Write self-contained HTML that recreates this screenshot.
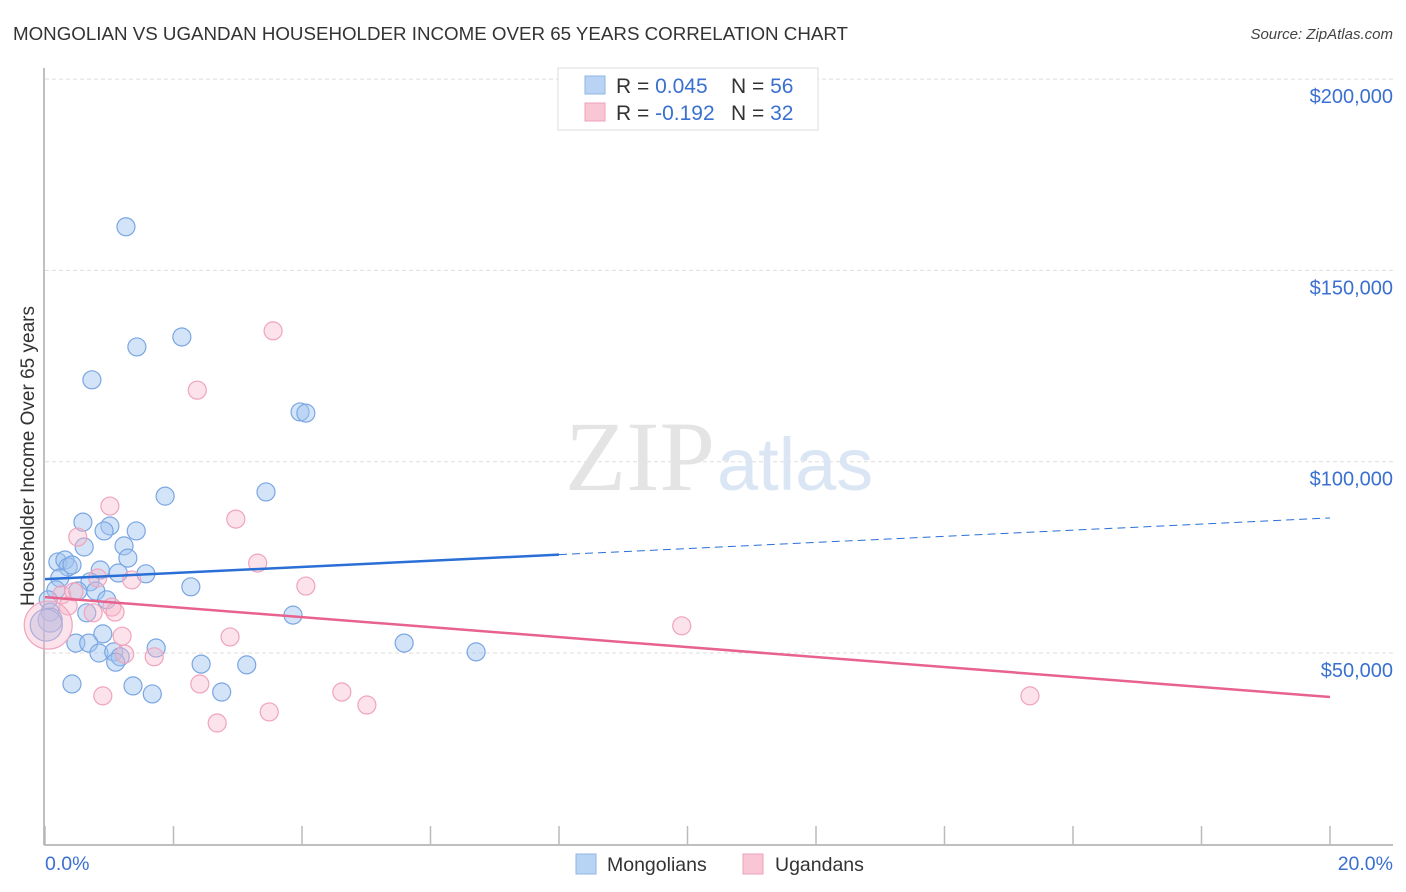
<!DOCTYPE html>
<html><head><meta charset="utf-8">
<style>
body{margin:0;background:#fff;font-family:"Liberation Sans",sans-serif;}
svg{display:block}
</style></head>
<body>
<svg id="chart" width="1406" height="892">
<text x="13" y="40" font-size="18" fill="#333" textLength="835" lengthAdjust="spacingAndGlyphs">MONGOLIAN VS UGANDAN HOUSEHOLDER INCOME OVER 65 YEARS CORRELATION CHART</text>
<text x="1393" y="39" font-size="15" fill="#444" font-style="italic" text-anchor="end">Source: ZipAtlas.com</text>
<g id="grid"></g>
<g id="axes"></g>
<text x="715" y="490" font-size="100" fill="#e4e4e4" text-anchor="end" font-family="Liberation Serif,serif">ZIP</text>
<text x="717" y="490" font-size="74" fill="#dbe6f5">atlas</text>
<g id="pts"></g>
<g id="lines"></g>
<text transform="translate(34,456) rotate(-90)" font-size="19" fill="#333" text-anchor="middle">Householder Income Over 65 years</text>
<g>
<rect x="558" y="68" width="260" height="62" fill="#fff" stroke="#ddd"/>
<rect x="585" y="76" width="20" height="18" fill="#b8d3f4" stroke="#8fb4e4"/>
<rect x="585" y="103" width="20" height="18" fill="#f9c6d5" stroke="#f0a0b8"/>
<text x="616" y="93" font-size="21" fill="#333">R = <tspan fill="#3a70d0">0.045</tspan><tspan x="731">N = </tspan><tspan fill="#3a70d0">56</tspan></text>
<text x="616" y="120" font-size="21" fill="#333">R = <tspan fill="#3a70d0">-0.192</tspan><tspan x="731">N = </tspan><tspan fill="#3a70d0">32</tspan></text>
</g>
<g>
<rect x="576" y="854" width="20" height="20" fill="#b8d3f4" stroke="#8fb4e4"/>
<text x="607" y="871" font-size="19.5" fill="#333">Mongolians</text>
<rect x="743" y="854" width="20" height="20" fill="#f9c6d5" stroke="#f0a0b8"/>
<text x="775" y="871" font-size="19.5" fill="#333">Ugandans</text>
</g>
</svg>
<script>
const yTicks=[50000,100000,150000,200000];
const yTickLabels=["$50,000","$100,000","$150,000","$200,000"];
const xTicks=[0,2,4,6,8,10,12,14,16,18,20];
const mongX=[1.26,1.43,2.13,0.73,3.97,4.06,1.87,3.44,0.59,1.01,0.92,1.42,0.61,1.23,1.29,0.20,0.31,0.36,0.42,0.86,1.14,1.57,0.23,0.70,2.27,0.17,0.51,0.79,0.96,0.05,0.08,0.65,3.86,0.90,0.48,0.68,5.59,1.73,0.84,1.07,6.71,1.17,1.10,2.43,3.14,0.42,1.37,2.75,1.67,0.08,0.02];
const mongY=[161.4,130.0,132.6,121.4,113.0,112.7,91.0,92.1,84.2,83.2,81.9,81.9,77.7,78.0,74.8,73.8,74.3,72.5,73.0,71.7,70.9,70.7,69.6,68.6,67.3,66.5,66.2,66.2,63.9,63.9,60.7,60.5,59.9,55.0,52.6,52.6,52.6,51.3,50.0,50.3,50.3,49.0,47.6,47.1,46.9,41.9,41.4,39.8,39.3,58.6,57.3];
const mongR=[9,9,9,9,9,9,9,9,9,9,9,9,9,9,9,9,9,9,9,9,9,9,9,9,9,9,9,9,9,9,9,9,9,9,9,9,9,9,9,9,9,9,9,9,9,9,9,9,9,12,16];
const ugX=[3.55,2.37,1.01,2.97,0.51,3.31,0.82,1.35,4.06,0.26,0.45,0.36,1.04,1.09,0.75,1.20,2.88,1.24,1.70,9.91,2.41,0.90,4.62,3.49,5.01,2.68,15.33,0.05];
const ugY=[134.2,118.7,88.4,85.0,80.3,73.5,69.6,69.1,67.5,65.2,66.0,62.3,62.0,60.7,60.5,54.4,54.2,49.7,49.0,57.1,41.9,38.8,39.8,34.6,36.4,31.7,38.8,57.3];
const ugR=[9,9,9,9,9,9,9,9,9,9,9,9,9,9,9,9,9,9,9,9,9,9,9,9,9,9,9,24];
const mongTrend=[69.3,85.3];
const ugTrend=[64.6,38.5];
const NS="http://www.w3.org/2000/svg";
const X=v=>45+v*1285/20;
const Y=v=>653-(v-50000)*191.3/50000;
const Yk=v=>Y(v*1000);
function mk(t,a,p){const e=document.createElementNS(NS,t);for(const k in a)e.setAttribute(k,a[k]);p.appendChild(e);return e;}
const grid=document.getElementById('grid'),axes=document.getElementById('axes'),pts=document.getElementById('pts'),lines=document.getElementById('lines');
yTicks.forEach((v,i)=>{
 const l=mk('line',{x1:45,x2:1393,y1:Y(v),y2:Y(v),stroke:'#ddd','stroke-dasharray':'4,3'},grid);
 
 
 const t=mk('text',{x:1393,y:Y(v)+24,'font-size':20,fill:'#3a70d0','text-anchor':'end'},axes);
 t.textContent=yTickLabels[i];
 
 
});
const ya=mk('line',{x1:44,x2:44,y1:68,y2:845,stroke:'#aaa','stroke-width':1.5},axes);


const xa=mk('line',{x1:44,x2:1393,y1:845,y2:845,stroke:'#aaa','stroke-width':1.5},axes);


xTicks.forEach(v=>{
 const tk=mk('line',{x1:X(v),x2:X(v),y1:826,y2:845,stroke:'#bbb','stroke-width':1.5},axes);
 
 
});
const xl0=mk('text',{x:45,y:870,'font-size':19.5,fill:'#3a70d0'},axes);xl0.textContent='0.0%';


const xl1=mk('text',{x:1393,y:870,'font-size':19.5,fill:'#3a70d0','text-anchor':'end'},axes);xl1.textContent='20.0%';


mongX.forEach((v,i)=>{
 const c=mk('circle',{cx:X(v),cy:Yk(mongY[i]),r:mongR[i],fill:'rgba(160,196,240,0.45)',stroke:'#7aa6e2','stroke-width':1.2},pts);
 
 
});
ugX.forEach((v,i)=>{
 const c=mk('circle',{cx:X(v),cy:Yk(ugY[i]),r:ugR[i],fill:'rgba(248,182,202,0.4)',stroke:'#f0a4bc','stroke-width':1.2},pts);
 
 
});
const mAt=x=>mongTrend[0]+(mongTrend[1]-mongTrend[0])*x/20;
const l1=mk('line',{x1:X(0),y1:Yk(mAt(0)),x2:X(8),y2:Yk(mAt(8)),stroke:'#2a6fd6','stroke-width':2.5},lines);


const l2=mk('line',{x1:X(8),y1:Yk(mAt(8)),x2:X(20),y2:Yk(mAt(20)),stroke:'#2a6fd6','stroke-width':1,'stroke-dasharray':'8,5'},lines);


const l3=mk('line',{x1:X(0),y1:Yk(ugTrend[0]),x2:X(20),y2:Yk(ugTrend[1]),stroke:'#e8628e','stroke-width':2.5},lines);


</script>
</body></html>
